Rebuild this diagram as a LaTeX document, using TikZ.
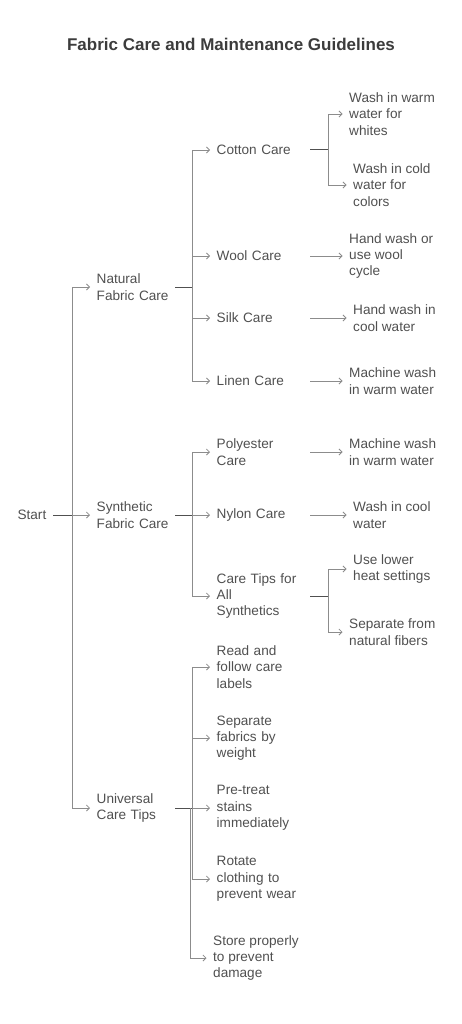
\documentclass[tikz,border=0pt]{standalone}
\usepackage{fontspec}
\setmainfont{Liberation Sans}
\usetikzlibrary{arrows.meta}
\definecolor{txtc}{HTML}{505050}
\definecolor{titlec}{HTML}{3C3C3C}
\definecolor{linec}{HTML}{8C8C8C}
\definecolor{stubc}{HTML}{505050}
\tikzset{
  lbl/.style={anchor=west, align=left, inner xsep=6.5pt, inner ysep=0pt, text=txtc,
    font=\fontsize{13.6}{16.3}\selectfont},
  lone/.style={lbl, text width=72pt},
  ltwo/.style={lbl, text width=87pt},
  conn/.style={draw=linec, line width=0.8pt, -{Straight Barb[length=3pt,width=6pt]}},
  stub/.style={draw=stubc, line width=1pt},
}
\begin{document}
\begin{tikzpicture}[x=1pt,y=-1pt]
	\useasboundingbox (0,0) rectangle (462,1024);
	% Title
	\node[text=titlec, font=\bfseries\fontsize{17}{20}\selectfont] (title) at (231,44) {Fabric Care and Maintenance Guidelines};
	
	% Root
	\node[lbl, anchor=east] (start) at (53,515) {Start};
	\coordinate (j0) at (72,515);
	\draw[stub] (start) -- (j0);
	
	% Level one
	\node[lone] (nat) at (90,287) {Natural\\Fabric Care};
	\node[lone] (syn) at (90,515) {Synthetic\\Fabric Care};
	\node[lone] (uni) at (90,808) {Universal\\Care Tips};
	\draw[conn] (j0) |- (nat);
	\draw[conn] (j0) -- (syn);
	\draw[conn] (j0) |- (uni);
	
	% Natural fabrics
	\coordinate (natJ) at (192,287);
	\draw[stub] (nat.east) -- (natJ);
	\node[ltwo] (cot) at (210,150) {Cotton Care};
	\node[ltwo] (wool) at (210,256) {Wool Care};
	\node[ltwo] (silk) at (210,318) {Silk Care};
	\node[ltwo] (lin) at (210,381) {Linen Care};
	\draw[conn] (natJ) |- (cot);
	\draw[conn] (natJ) |- (wool);
	\draw[conn] (natJ) |- (silk);
	\draw[conn] (natJ) |- (lin);
	
	\coordinate (cotJ) at (328,150);
	\draw[stub] (cot.east) -- (cotJ);
	\node[lbl] (whites) at (342.5,114) {Wash in warm\\water for\\whites};
	\node[lbl] (colors) at (346.5,185) {Wash in cold\\water for\\colors};
	\draw[conn] (cotJ) |- (whites);
	\draw[conn] (cotJ) |- (colors);
	\node[lbl] (woolW) at (342.5,256) {Hand wash or\\use wool\\cycle};
	\node[lbl] (silkW) at (346.5,318) {Hand wash in\\cool water};
	\node[lbl] (linW) at (342.5,381) {Machine wash\\in warm water};
	\draw[conn] (wool) -- (woolW);
	\draw[conn] (silk) -- (silkW);
	\draw[conn] (lin) -- (linW);
	
	% Synthetic fabrics
	\coordinate (synJ) at (192,515);
	\draw[stub] (syn.east) -- (synJ);
	\node[ltwo] (poly) at (210,452) {Polyester\\Care};
	\node[ltwo] (nyl) at (210,515) {Nylon Care};
	\node[ltwo] (tips) at (210,596) {Care Tips for\\All\\Synthetics};
	\draw[conn] (synJ) |- (poly);
	\draw[conn] (synJ) -- (nyl);
	\draw[conn] (synJ) |- (tips);
	
	\node[lbl] (polyW) at (342.5,452) {Machine wash\\in warm water};
	\node[lbl] (nylW) at (346.5,515) {Wash in cool\\water};
	\draw[conn] (poly) -- (polyW);
	\draw[conn] (nyl) -- (nylW);
	\coordinate (tipsJ) at (328,596);
	\draw[stub] (tips.east) -- (tipsJ);
	\node[lbl] (heat) at (346.5,569) {Use lower\\heat settings};
	\node[lbl] (fib) at (342.5,632) {Separate from\\natural fibers};
	\draw[conn] (tipsJ) |- (heat);
	\draw[conn] (tipsJ) |- (fib);
	
	% Universal tips
	\coordinate (uniJ) at (192,808);
	\coordinate (uniJb) at (190,808);
	\draw[stub] (uni.east) -- (uniJ);
	\node[ltwo] (read) at (210,667) {Read and\\follow care\\labels};
	\node[ltwo] (sep) at (210,738) {Separate\\fabrics by\\weight};
	\node[ltwo] (pre) at (210,808) {Pre-treat\\stains\\immediately};
	\node[ltwo] (rot) at (210,879) {Rotate\\clothing to\\prevent wear};
	\node[lbl] (store) at (206.5,958) {Store properly\\to prevent\\damage};
	\draw[conn] (uniJ) |- (read);
	\draw[conn] (uniJ) |- (sep);
	\draw[conn] (uniJ) -- (pre);
	\draw[conn] (uniJ) |- (rot);
	\draw[conn] (uniJb) |- (store);
\end{tikzpicture}
\end{document}
